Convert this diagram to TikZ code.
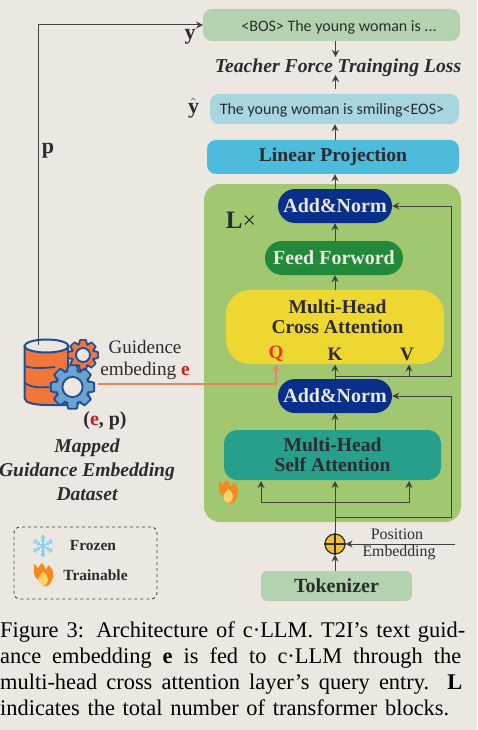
\documentclass[tikz,border=0pt]{standalone}
\usepackage{fontspec}
\setmainfont{Liberation Serif}
\newfontfamily\handfont{Carlito}
\usetikzlibrary{arrows.meta}
\definecolor{bgc}{HTML}{ECE8E1}
\definecolor{ink}{HTML}{2B2B30}
\definecolor{linec}{HTML}{3F4240}
\definecolor{redc}{HTML}{C4201C}
\definecolor{gearblue}{HTML}{6BA3CF}
\definecolor{iconblue}{HTML}{1F4E96}
\definecolor{dborange}{HTML}{F0763A}
\definecolor{blockc}{HTML}{A2C771}
\definecolor{bosc}{HTML}{B5D2B0}
\definecolor{bosb}{HTML}{C8E0C4}
\definecolor{yhc}{HTML}{A8D6DE}
\definecolor{yhb}{HTML}{B9DEE4}
\definecolor{linc}{HTML}{4DBBDB}
\definecolor{navyc}{HTML}{0A2F8A}
\definecolor{ffc}{HTML}{238A3C}
\definecolor{crossc}{HTML}{EED730}
\definecolor{selfc}{HTML}{26A08A}
\definecolor{plusc}{HTML}{F0C030}
\definecolor{tokc}{HTML}{B2D2B0}
\definecolor{qred}{HTML}{F0321E}
\definecolor{qline}{HTML}{E28664}
\definecolor{qtip}{HTML}{F05028}
\definecolor{flameo}{HTML}{F58A1F}
\definecolor{flamey}{HTML}{FBD46A}
\definecolor{snowc}{HTML}{7FD3E8}
\tikzset{
  box/.style={rectangle,inner sep=0pt,align=center,text=ink,font=\bfseries\fontsize{19.6}{20.5}\selectfont},
  pill/.style={box,rounded corners=17pt,fill=#1,text=bgc,font=\bfseries\fontsize{20}{21}\selectfont},
  lbl/.style={inner sep=0pt,text=ink,align=center},
  conn/.style={draw=linec,line width=1pt,-{Stealth[length=7pt,width=7pt]}},
  hand/.style={inner sep=0pt,text=ink,font=\handfont\fontsize{16}{18}\selectfont},
  capline/.style={inner sep=0pt,anchor=base west,text=black,font=\fontsize{22.4}{24}\selectfont},
  pics/flame/.style={code={
    \begin{scope}[xscale=1.25,yscale=1.08]
    \fill[flameo] (0,9) .. controls (-1,5) and (-4,4) .. (-6,1)
      .. controls (-7,-1) and (-7.5,-3) .. (-7,-4) .. controls (-7.5,-6) and (-7,-9) .. (-7.5,-11) .. controls (-5,-10) and (-5,-9) .. (-4,-7)
      .. controls (-4,-9) and (-2,-10) .. (-1,-12) .. controls (1,-10) and (2,-8) .. (2,-6)
      .. controls (3,-7) and (4,-8) .. (4,-10) .. controls (6,-9) and (8,-6) .. (8,-3)
      .. controls (9,-1) and (7,6) .. (5,8) .. controls (3,10) and (2,10) .. (0,9) -- cycle;
    \fill[flamey] (0,9) .. controls (-4,8) and (-4,3) .. (-3,1) .. controls (-2,0) and (-1,-3) .. (0,-4)
      .. controls (2,-2) and (4,0) .. (4,3) .. controls (4,6) and (2,9) .. (0,9) -- cycle;
    \end{scope}
  }},
  pics/snow/.style={code={
    \foreach \a in {30,90,...,330}{
      \draw[snowc,line width=1.3pt] (0,0) -- (\a:11);
      \draw[snowc,line width=1pt] (\a:7) -- ++(\a+45:3.5) (\a:7) -- ++(\a-45:3.5);
      \draw[snowc,line width=1pt] (\a:4) -- ++(\a+45:2.5) (\a:4) -- ++(\a-45:2.5);
    }
  }},
  pics/gear/.style 2 args={code={
    \foreach \a in {0,45,...,315}{
      \filldraw[draw=iconblue,fill=#2,line width=1.9pt,rotate=\a,line join=round]
        (0.68*#1,-0.26*#1) -- (0.96*#1,-0.19*#1) -- (0.96*#1,0.19*#1) -- (0.68*#1,0.26*#1) -- cycle;
    }
    \filldraw[draw=iconblue,fill=#2,line width=1.9pt] (0,0) circle (0.74*#1);
    \foreach \a in {0,45,...,315}{
      \fill[#2,rotate=\a] (0.62*#1,-0.20*#1) -- (0.92*#1,-0.13*#1) -- (0.92*#1,0.13*#1) -- (0.62*#1,0.20*#1) -- cycle;
    }
    \draw[iconblue,line width=1.9pt,fill=bgc] (0,0) circle (0.45*#1);
  }},
}
\begin{document}
\begin{tikzpicture}[x=1pt,y=-1pt]
\useasboundingbox[fill=bgc] (0,0) rectangle (477,730);
% container
\node[rectangle,minimum width=257pt,minimum height=338pt,rounded corners=16pt,fill=blockc,inner sep=0pt] (block) at (332.5,353) {};
% top boxes
\node[rectangle,inner sep=0pt,minimum width=257pt,minimum height=32pt,rounded corners=9pt,fill=bosc,draw=bosb,densely dotted] (bos) at (331.5,25) {};
\node[hand] (bostext) at (339,27) {<BOS> The young woman is ...};
\node[lbl,font=\bfseries\itshape\fontsize{19.7}{22}\selectfont] (loss) at (338,67.5) {Teacher Force Trainging Loss};
\node[rectangle,inner sep=0pt,minimum width=249pt,minimum height=30pt,rounded corners=9pt,fill=yhc,draw=yhb,densely dotted] (yhat) at (334.5,109) {};
\node[hand] (yhattext) at (332,110.5) {The young woman is smiling<EOS>};
\node[box,minimum width=252pt,minimum height=34pt,rounded corners=9pt,fill=linc] (lin) at (333,157) {Linear Projection};
% blocks
\node[pill=navyc,minimum width=114pt,minimum height=34pt] (an1) at (335,206) {Add\&Norm};
\node[pill=ffc,minimum width=138pt,minimum height=34pt] (ff) at (334,258) {Feed Forword};
\node[box,minimum width=218pt,minimum height=74pt,rounded corners=24pt,fill=crossc] (cross) at (335,327) {};
\node[lbl,font=\bfseries\fontsize{19.6}{20.5}\selectfont] (crosstext) at (337.5,317) {Multi-Head\\[-1pt]Cross Attention};
\node[lbl,font=\bfseries\fontsize{19}{20}\selectfont,text=qred] (q) at (276,354) {Q};
\node[lbl,font=\bfseries\fontsize{19}{20}\selectfont] (k) at (335,354) {K};
\node[lbl,font=\bfseries\fontsize{19}{20}\selectfont] (v) at (407,354) {V};
\node[pill=navyc,minimum width=114pt,minimum height=34pt] (an2) at (335,396) {Add\&Norm};
\node[box,minimum width=217pt,minimum height=50pt,rounded corners=13pt,fill=selfc] (self) at (332.5,455) {Multi-Head\\[-1pt]Self Attention};
\node[circle,draw=ink,line width=1.2pt,fill=plusc,minimum size=20pt,inner sep=0pt] (plus) at (335,544) {};
\draw[ink,line width=1.2pt] (plus.west) -- (plus.east) (plus.north) -- (plus.south);
\node[box,minimum width=151pt,minimum height=30pt,rounded corners=6pt,fill=tokc,font=\bfseries\fontsize{20}{21}\selectfont] (tok) at (336.5,586) {Tokenizer};
\node[lbl,font=\fontsize{16}{17}\selectfont] (pos1) at (397,534) {Position};
\node[lbl,font=\fontsize{15.8}{17}\selectfont] (pos2) at (399,553) {Embedding};
% free ends
\coordinate (posin) at (455,544);
\coordinate (split1) at (335,517);
\coordinate (right1) at (451,517);
\coordinate (right1b) at (451,396);
\coordinate (split2) at (335,376.5);
\coordinate (right2) at (451,376.5);
\coordinate (right2b) at (451,206);
\coordinate (selfbar) at (335,502);
\coordinate (selfL) at (261,502);
\coordinate (selfR) at (409,502);
\coordinate (selfLt) at (261,481);
\coordinate (selfRt) at (409,481);
\coordinate (selfCt) at (335,481);
\coordinate (vt) at (409,364.5);
\coordinate (kt) at (335,364.5);
\coordinate (qt) at (276,364.5);
\coordinate (qb) at (276,384);
\coordinate (qs) at (98,384);
\coordinate (ps) at (38,345);
\coordinate (pc) at (38,25);
\coordinate (pe) at (203,25);
\coordinate (lossb) at (335.5,89);
\coordinate (lossbt) at (335.5,75);
\coordinate (losst) at (335.5,57);
% database icon body
\draw[iconblue,line width=2pt,fill=dborange,line join=round] (24.5,346) -- (24.5,398) .. controls (24.5,403) and (35,405) .. (47,405) -- (68,405) -- (68,346);
\draw[iconblue,line width=2pt,fill=bgc] (46.5,346) ellipse (22pt and 6.5pt);
\draw[iconblue,line width=1.8pt] (25,366) .. controls (32,369) and (45,368) .. (55,367);
\draw[iconblue,line width=1.8pt] (25,383) .. controls (32,388) and (40,387.5) .. (49,387);
\path (83,355) pic {gear={15.5}{dborange}};
\path (72.5,387) pic {gear={22.5}{gearblue}};
% connectors
\draw[conn] (tok.north -| plus) -- (plus.south);
\draw[conn] (posin) -- (plus.east);
\draw[conn] (plus.north) -- (selfCt);
\draw[conn] (selfbar) -- (selfL) -- (selfLt);
\draw[conn] (selfbar) -- (selfR) -- (selfRt);
\draw[conn] (split1) -- (right1) -- (right1b) -- (an2.east);
\draw[conn] (self.north -| an2) -- (an2.south);
\draw[conn] (an2.north) -- (kt);
\draw[conn] (split2) -- (right2) -- (right2b) -- (an1.east);
\draw[conn] (split2) -| (vt);
\draw[conn] (cross.north) -- (ff.south -| cross);
\draw[conn] (ff.north -| an1) -- (an1.south);
\draw[conn] (an1.north) -- (lin.south -| an1);
\draw[conn] (lin.north -| an1) -- (yhat.south -| an1);
\draw[conn] (lossb) -- (lossbt);
\draw[conn] (bos.south -| losst) -- (losst);
\draw[line width=1.1pt,draw=qline,-{Stealth[length=7pt,width=7pt,fill=qtip]}] (qs) -- (qb) -- (qt);
\draw[conn] (ps) -- (pc) -- (pe);
% labels
\node[lbl,font=\bfseries\fontsize{22}{22}\selectfont] (ylab) at (190,37) {y};
\node[lbl,font=\bfseries\fontsize{22}{22}\selectfont] (plab) at (48,151) {p};
\node[lbl,font=\fontsize{22}{22}\selectfont] (yhlab) at (193.5,108) {$\hat{\textbf{y}}$};
\node[lbl,font=\fontsize{25}{26}\selectfont] (lx) at (241,220) {\textbf{L}{\fontsize{24}{24}\selectfont ×}};
\node[lbl,font=\fontsize{19}{20}\selectfont] (guid) at (145,347) {Guidence};
\node[lbl,font=\fontsize{19.3}{20}\selectfont] (emb) at (145,371) {embeding \textcolor{redc}{\textbf{e}}};
\node[lbl,font=\bfseries\fontsize{20}{20}\selectfont] (ep) at (105,421) {(\textcolor{redc}{e}, p)};
\node[lbl,font=\bfseries\itshape\fontsize{19.6}{24}\selectfont] (dset) at (87,470) {Mapped\\Guidance Embedding\\Dataset};
% fire in block
\path (228,493) pic {flame};
% legend
\node[rectangle,draw=linec,dashed,line width=0.9pt,rounded corners=6pt,minimum width=143pt,minimum height=72pt,inner sep=0pt] (legend) at (85.5,563) {};
\path (43,546) pic {snow};
\path (43,576) pic {flame};
\node[lbl,font=\bfseries\fontsize{15.5}{16}\selectfont] (frozen) at (93,545) {Frozen};
\node[lbl,font=\bfseries\fontsize{15.5}{16}\selectfont] (train) at (95.5,575) {Trainable};
% caption
\node[capline] (cap1) at (0,637) {\makebox[465pt][s]{Figure 3: Architecture of c·LLM. T2I’s text guid-}};
\node[capline] (cap2) at (0,663) {\makebox[461pt][s]{ance embedding \textbf{e} is fed to c·LLM through the}};
\node[capline] (cap3) at (0,689) {\makebox[462pt][s]{multi-head cross attention layer’s query entry. \textbf{L}}};
\node[capline] (cap4) at (0,715) {\makebox[449pt][s]{indicates the total number of transformer blocks.}};
\end{tikzpicture}
\end{document}
